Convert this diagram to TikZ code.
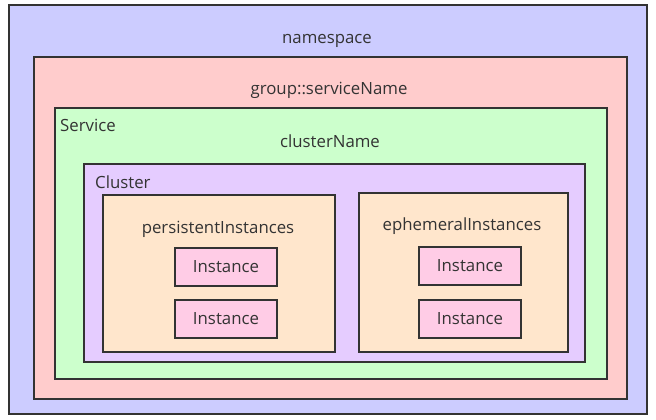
\documentclass[tikz,border=0pt]{standalone}
\usepackage{fontspec}
\setmainfont{Open Sans}
\definecolor{nsfill}{HTML}{CCCCFF}
\definecolor{grpfill}{HTML}{FFCCCC}
\definecolor{svcfill}{HTML}{CCFFCC}
\definecolor{clfill}{HTML}{E5CCFF}
\definecolor{setfill}{HTML}{FFE6CC}
\definecolor{insfill}{HTML}{FFCCE6}
\definecolor{edge}{HTML}{333333}
\definecolor{txt}{HTML}{333333}
\begin{document}
\begin{tikzpicture}[x=1pt,y=-1pt,
  box/.style={draw=edge, line width=2pt, rectangle, inner sep=0pt, anchor=north west},
  lbl/.style={text=txt, font=\fontsize{16.8}{20}\selectfont, inner sep=0pt},
  inst/.style={box, fill=insfill, minimum width=102pt, minimum height=38pt, anchor=north west, text=txt, font=\fontsize{16.8}{20}\selectfont}]
\useasboundingbox (0,0) rectangle (656,420);
\node[box, fill=nsfill, minimum width=638pt, minimum height=409pt] (ns) at (8,4) {};
\node[box, fill=grpfill, minimum width=593pt, minimum height=342pt] (grp) at (33,56) {};
\node[box, fill=svcfill, minimum width=552pt, minimum height=271pt] (svc) at (54,107) {};
\node[box, fill=clfill, minimum width=501pt, minimum height=198pt] (cl) at (83,163) {};
\node[box, fill=setfill, minimum width=232pt, minimum height=157pt] (per) at (102,194) {};
\node[box, fill=setfill, minimum width=209pt, minimum height=159pt] (eph) at (358,192) {};
\node[inst] (p1) at (174,247) {Instance};
\node[inst] (p2) at (174,299) {Instance};
\node[inst] (e1) at (418,246) {Instance};
\node[inst] (e2) at (418,299) {Instance};
\node[lbl] (nsl) at (327,41) {namespace};
\node[lbl] (grpl) at (329,90) {group::serviceName};
\node[lbl, anchor=west] (svcl) at (60,125) {Service};
\node[lbl] (cnl) at (330,141) {clusterName};
\node[lbl, anchor=west] (cll) at (95,182) {Cluster};
\node[lbl] (perl) at (218,229) {persistentInstances};
\node[lbl] (ephl) at (462,226) {ephemeralInstances};
\end{tikzpicture}
\end{document}
